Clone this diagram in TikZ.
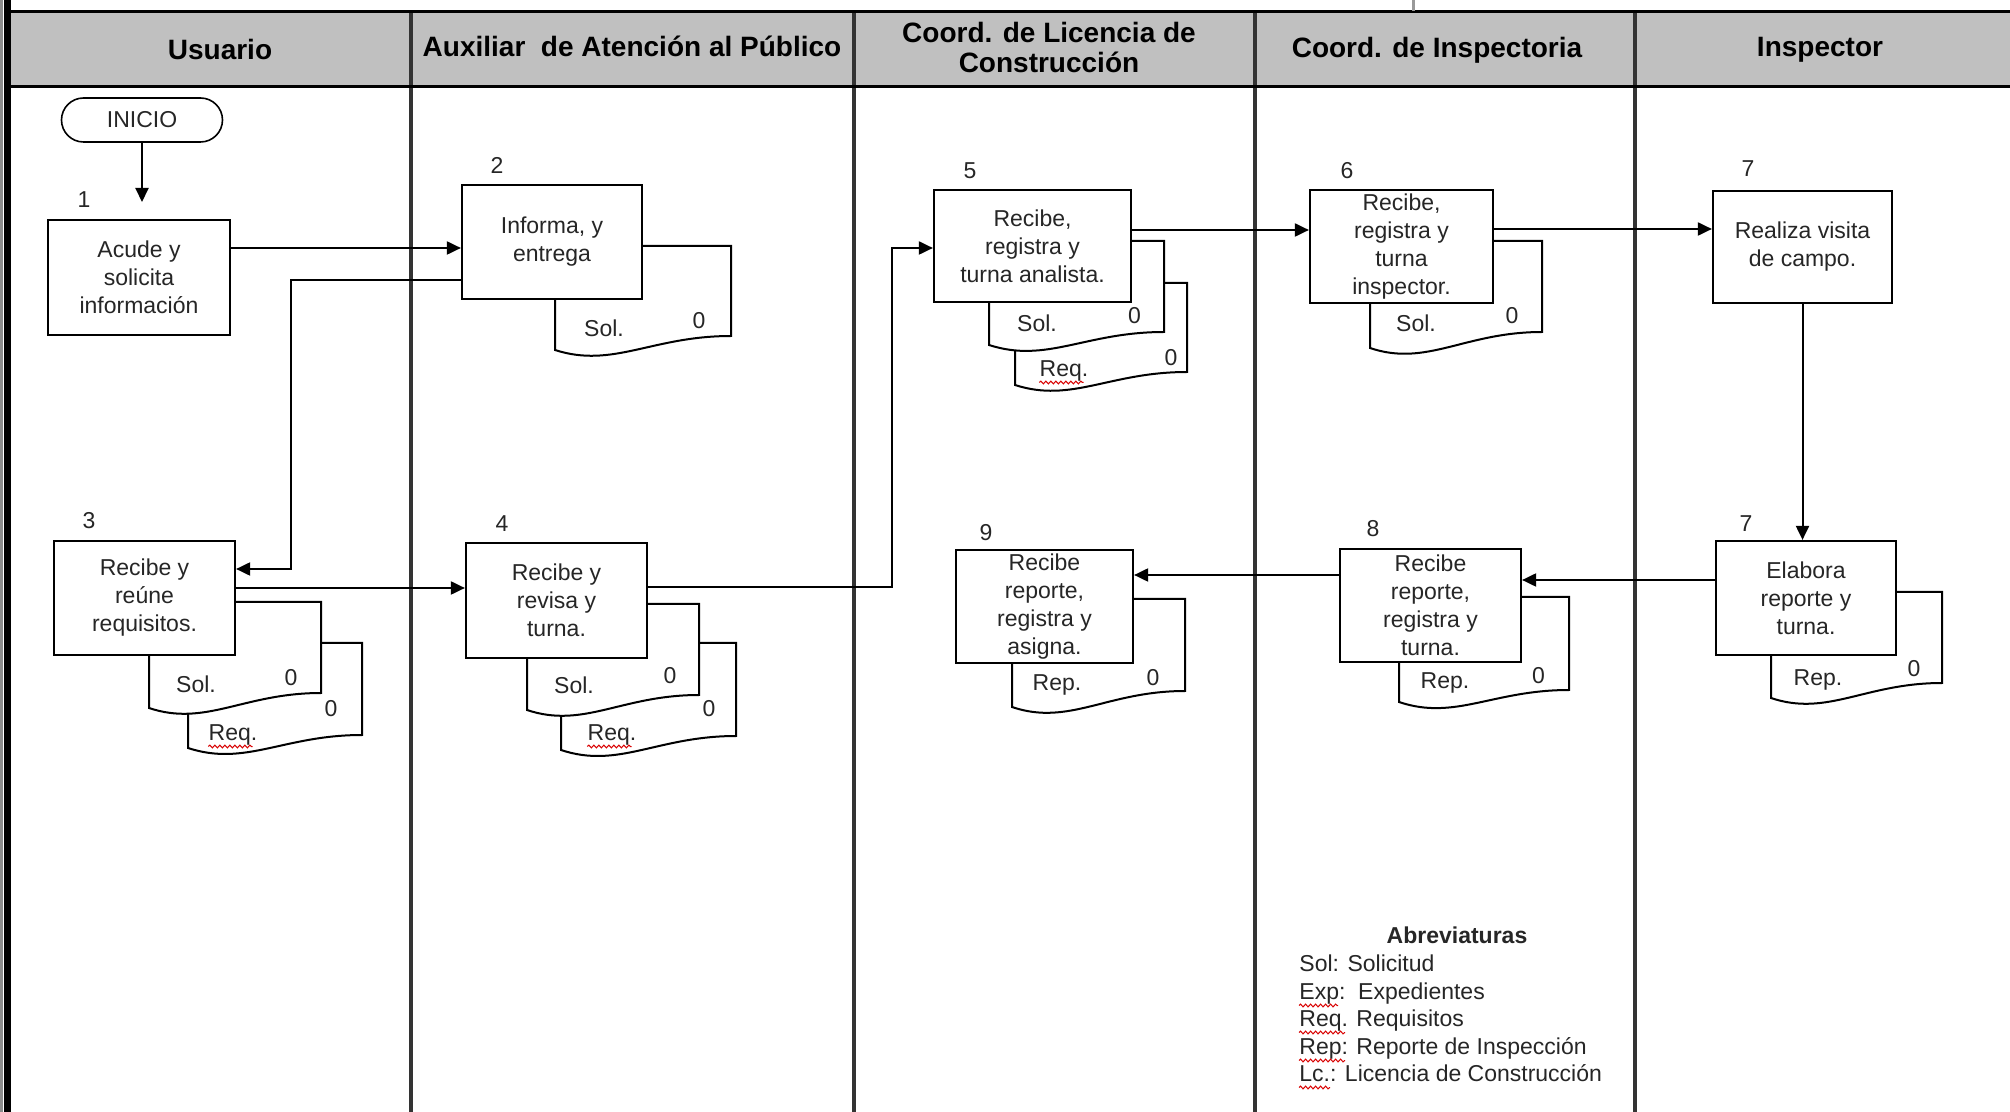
\documentclass[tikz,border=0pt]{standalone}
\usepackage{fontspec}
\setmainfont{Liberation Sans}
\usetikzlibrary{arrows.meta,decorations.pathmorphing,calc}
\newcommand\bodyf{\fontsize{11.5pt}{14pt}\selectfont}
\newcommand\headf{\fontsize{14pt}{15pt}\selectfont\bfseries}
\definecolor{hdrgray}{HTML}{C0C0C0}
% document shape: left, top, right, left-bottom, right-bottom
\newcommand\docsh[5]{%
  \filldraw[docline] (#3,#2) -- (#1,#2) -- (#1,#4)
   .. controls ({#1+0.33*(#3-#1)},{#4+0.18*(#4-#2)}) and ({#1+0.55*(#3-#1)},#5) .. (#3,#5) -- cycle;}
\begin{document}
\begin{tikzpicture}[x=0.5pt,y=-0.5pt,
  proc/.style={draw=black, line width=1.1pt, fill=white, align=center, inner sep=0pt, font=\bodyf, text=black!85},
  lbl/.style={anchor=base, inner sep=0pt, font=\bodyf, text=black!85},
  hd/.style={anchor=base, inner sep=0pt, font=\headf, text=black},
  arr/.style={draw=black, line width=1pt, -{Triangle[length=7pt,width=6.5pt]}},
  docline/.style={draw=black, line width=1pt, fill=white},
  squig/.style={draw=red!85!black, line width=0.5pt, decorate, decoration={snake, amplitude=0.7pt, segment length=2.5pt}},
  lane/.style={draw=black!80, line width=1.6pt}]
\useasboundingbox (0,0) rectangle (2010,1112);
\fill[white] (0,0) rectangle (2010,1112);
% header band
\fill[hdrgray] (11,12) rectangle (2010,86.5);
% lane dividers
\foreach \lx in {411,854,1255,1635} \draw[lane] (\lx,12) -- (\lx,1112);
\draw[black, line width=1.5pt] (11,12) -- (2010,12);
\draw[black, line width=1.5pt] (11,86.5) -- (2010,86.5);
% left border
\fill[black!45] (0,0) rectangle (3,1112);
\fill[black] (4,0) rectangle (11,1112);
% small tick above header
\draw[black!40, line width=1.5pt] (1413,0) -- (1413,11);
% header texts
\node[hd] (h1) at (220,59.5) {Usuario};
\node[hd] (h2) at (632,56.7) {Auxiliar\ \ de Atención al Público};
\node[hd] (h3a) at (1049,42.5) {Coord. de Licencia de};
\node[hd] (h3b) at (1049,72.5) {Construcción};
\node[hd] (h4) at (1437,58) {Coord. de Inspectoria};
\node[hd] (h5) at (1820,56.7) {Inspector};
% documents (back to front)
\docsh{555}{246}{731}{350}{336}
\docsh{188}{643}{362}{748}{735}
\docsh{149}{602}{321}{708}{693}
\docsh{561}{643}{736}{750}{736}
\docsh{527}{604}{699}{710}{695}
\docsh{1015}{283}{1187}{385}{372}
\docsh{989}{241}{1164}{345}{332}
\docsh{1370}{241}{1542}{348}{332}
\docsh{1771}{592}{1942}{698}{683}
\docsh{1399}{597}{1569}{702}{690}
\docsh{1012}{599}{1185}{707}{691}
% document texts
\node[lbl] (s2) at (604,336.5) {Sol.};  \node[lbl] (z2) at (699,328.5) {0};
\node[lbl] (s3) at (196,692.5) {Sol.};  \node[lbl] (z3) at (291,685.5) {0};
\node[lbl] (r3) at (233,740.5) {Req.};  \node[lbl] (y3) at (331,716.5) {0};
\node[lbl] (s4) at (574,693.5) {Sol.};  \node[lbl] (z4) at (670,683.5) {0};
\node[lbl] (r4) at (612,740.5) {Req.};  \node[lbl] (y4) at (709,716.5) {0};
\node[lbl] (s5) at (1037,331.5) {Sol.}; \node[lbl] (z5) at (1134.5,323.5) {0};
\node[lbl] (r5) at (1064,376.5) {Req.}; \node[lbl] (y5) at (1171,365.5) {0};
\node[lbl] (s6) at (1416,331.5) {Sol.}; \node[lbl] (z6) at (1512,323.5) {0};
\node[lbl] (p7) at (1818,685.5) {Rep.}; \node[lbl] (z7) at (1914,676.5) {0};
\node[lbl] (p8) at (1445,688.5) {Rep.}; \node[lbl] (z8) at (1538.5,683.5) {0};
\node[lbl] (p9) at (1057,690.5) {Rep.}; \node[lbl] (z9) at (1153,685.5) {0};
\draw[squig] ($(r3.base west)+(0,6)$) -- ($(r3.base east)+(-5,6)$);
\draw[squig] ($(r4.base west)+(0,6)$) -- ($(r4.base east)+(-5,6)$);
\draw[squig] ($(r5.base west)+(0,6)$) -- ($(r5.base east)+(-5,6)$);
% start
\node[proc, line width=0.8pt, rounded corners=11pt, minimum width=80.5pt, minimum height=22pt] (inicio) at (142,120) {INICIO};
% process boxes
\node[proc, minimum width=91pt, minimum height=57.5pt] (b1) at (139,277.5) {Acude y\\solicita\\información};
\node[proc, minimum width=90pt, minimum height=57pt] (b2) at (552,242) {Informa, y\\entrega};
\node[proc, minimum width=90.5pt, minimum height=57pt] (b3) at (144.5,598) {Recibe y\\reúne\\requisitos.};
\node[proc, minimum width=90.5pt, minimum height=57.5pt] (b4) at (556.5,600.5) {Recibe y\\revisa y\\turna.};
\node[proc, minimum width=98.5pt, minimum height=56pt] (b5) at (1032.5,246) {Recibe,\\registra y\\turna analista.};
\node[proc, minimum width=91.5pt, minimum height=56.5pt] (b6) at (1401.5,246.5) {Recibe,\\registra y\\turna\\inspector.};
\node[proc, minimum width=89.5pt, minimum height=56pt] (b7) at (1802.5,247) {Realiza visita\\de campo.};
\node[proc, minimum width=90pt, minimum height=57pt] (b7b) at (1806,598) {Elabora\\reporte y\\turna.};
\node[proc, minimum width=90.5pt, minimum height=56.5pt] (b8) at (1430.5,605.5) {Recibe\\reporte,\\registra y\\turna.};
\node[proc, minimum width=88.5pt, minimum height=56.5pt] (b9) at (1044.5,606.5) {Recibe\\reporte,\\registra y\\asigna.};
% step numbers
\node[lbl] (n1) at (84,207.5) {1};
\node[lbl] (n2) at (497,173.5) {2};
\node[lbl] (n3) at (89,528.5) {3};
\node[lbl] (n4) at (502,531.5) {4};
\node[lbl] (n5) at (970,178.5) {5};
\node[lbl] (n6) at (1347,178.5) {6};
\node[lbl] (n7) at (1748,176.5) {7};
\node[lbl] (n7b) at (1746,531.5) {7};
\node[lbl] (n8) at (1373,536.5) {8};
\node[lbl] (n9) at (986,540.5) {9};
% connectors
\coordinate (a1) at (142,202);
\draw[arr] (inicio.south) -- (a1);
\draw[arr] (b1.east |- 0,248) -- (b2.west |- 0,248);
\coordinate (k1) at (291,280); \coordinate (k2) at (291,569);
\draw[arr] (b2.west |- k1) -- (k1) -- (k2) -- (b3.east |- k2);
\draw[arr] (b3.east |- 0,588) -- (b4.west |- 0,588);
\coordinate (k3) at (892,587); \coordinate (k4) at (892,248);
\draw[arr] (b4.east |- k3) -- (k3) -- (k4) -- (b5.west |- k4);
\draw[arr] (b5.east |- 0,230) -- (b6.west |- 0,230);
\draw[arr] (b6.east |- 0,229) -- (b7.west |- 0,229);
\draw[arr] (b7.south) -- (b7.south |- b7b.north);
\draw[arr] (b7b.west |- 0,580) -- (b8.east |- 0,580);
\draw[arr] (b8.west |- 0,575) -- (b9.east |- 0,575);
% legend
\node[lbl, font=\bodyf\bfseries] (abr) at (1457,943.5) {Abreviaturas};
\node[lbl, anchor=base west] (l1) at (1299,971.5) {Sol: Solicitud};
\node[lbl, anchor=base west] (l2) at (1299,999.5) {Exp:\ \ Expedientes};
\node[lbl, anchor=base west] (l3) at (1299,1026.5) {Req. Requisitos};
\node[lbl, anchor=base west] (l4) at (1299,1054.5) {Rep: Reporte de Inspección};
\node[lbl, anchor=base west] (l5) at (1299,1081.5) {Lc.: Licencia de Construcción};
\draw[squig] ($(l2.base west)+(0,6)$) -- ++(39,0);
\draw[squig] ($(l3.base west)+(0,6)$) -- ++(46,0);
\draw[squig] ($(l4.base west)+(0,6)$) -- ++(46,0);
\draw[squig] ($(l5.base west)+(0,6)$) -- ++(31,0);
\end{tikzpicture}
\end{document}
